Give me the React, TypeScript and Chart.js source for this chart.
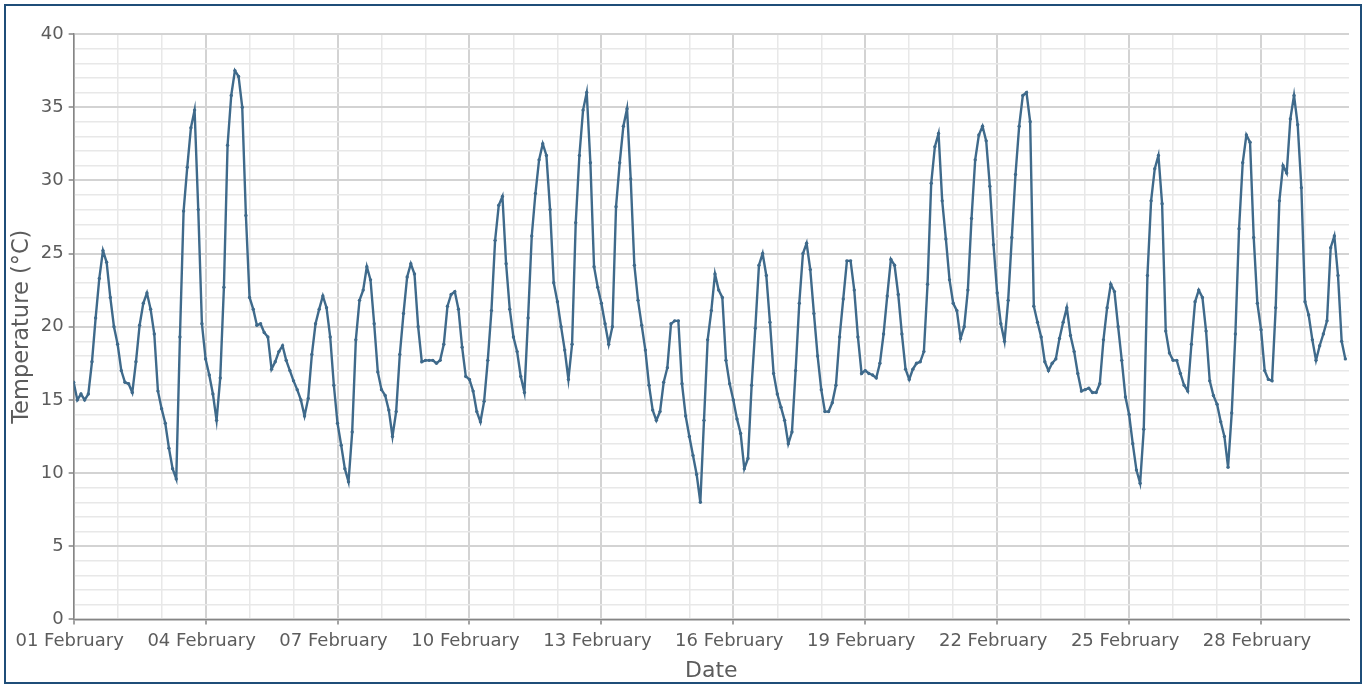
import React, { useEffect, useRef } from "react";
import { Chart, registerables } from "chart.js";

Chart.register(...registerables);

// Temperature readings every 2 hours (00:00, 02:00, ... 22:00) for each day of February
const stepHours = 2;
const feb01 = [16.2, 15.0, 15.4, 15.0, 15.4, 17.6, 20.6, 23.3, 25.2, 24.4, 22.0, 20.0];
const feb02 = [18.8, 17.0, 16.2, 16.1, 15.5, 17.6, 20.1, 21.6, 22.3, 21.2, 19.5, 15.6];
const feb03 = [14.4, 13.4, 11.7, 10.3, 9.6, 19.3, 27.9, 30.9, 33.6, 34.8, 28.0, 20.2];
const feb04 = [17.8, 16.7, 15.4, 13.6, 16.5, 22.7, 32.4, 35.8, 37.5, 37.1, 35.0, 27.6];
const feb05 = [22.0, 21.2, 20.1, 20.2, 19.6, 19.3, 17.1, 17.6, 18.3, 18.7, 17.7, 17.0];
const feb06 = [16.3, 15.7, 15.0, 13.9, 15.1, 18.1, 20.2, 21.2, 22.1, 21.3, 19.3, 16.0];
const feb07 = [13.4, 11.9, 10.3, 9.4, 12.8, 19.1, 21.8, 22.5, 24.1, 23.2, 20.2, 16.9];
const feb08 = [15.7, 15.3, 14.3, 12.5, 14.2, 18.1, 20.9, 23.4, 24.3, 23.6, 20.0, 17.6];
const feb09 = [17.7, 17.7, 17.7, 17.5, 17.7, 18.8, 21.4, 22.2, 22.4, 21.2, 18.6, 16.6];
const feb10 = [16.4, 15.6, 14.2, 13.5, 14.9, 17.7, 21.1, 25.9, 28.3, 28.9, 24.3, 21.2];
const feb11 = [19.3, 18.3, 16.6, 15.5, 20.6, 26.2, 29.1, 31.4, 32.5, 31.7, 28.0, 23.0];
const feb12 = [21.7, 20.0, 18.4, 16.4, 18.8, 27.1, 31.7, 34.8, 36.0, 31.2, 24.1, 22.7];
const feb13 = [21.6, 20.2, 18.8, 20.0, 28.2, 31.2, 33.7, 34.9, 30.1, 24.2, 21.8, 20.1];
const feb14 = [18.4, 16.0, 14.3, 13.6, 14.2, 16.2, 17.2, 20.2, 20.4, 20.4, 16.1, 13.9];
const feb15 = [12.5, 11.2, 9.9, 8.0, 13.6, 19.1, 21.1, 23.6, 22.5, 22.0, 17.7, 16.1];
const feb16 = [15.0, 13.7, 12.7, 10.3, 11.0, 16.0, 19.9, 24.2, 25.0, 23.5, 20.3, 16.8];
const feb17 = [15.4, 14.5, 13.6, 12.0, 12.8, 17.0, 21.6, 25.0, 25.7, 23.9, 20.9, 18.0];
const feb18 = [15.7, 14.2, 14.2, 14.8, 16.0, 19.3, 21.9, 24.5, 24.5, 22.5, 19.3, 16.8];
const feb19 = [17.0, 16.8, 16.7, 16.5, 17.5, 19.5, 22.1, 24.6, 24.2, 22.2, 19.5, 17.1];
const feb20 = [16.4, 17.1, 17.5, 17.6, 18.3, 22.9, 29.8, 32.3, 33.2, 28.6, 26.0, 23.2];
const feb21 = [21.6, 21.1, 19.2, 20.0, 22.5, 27.4, 31.4, 33.1, 33.7, 32.7, 29.6, 25.6];
const feb22 = [22.3, 20.2, 19.0, 21.8, 26.1, 30.4, 33.7, 35.8, 36.0, 34.0, 21.4, 20.3];
const feb23 = [19.3, 17.6, 17.0, 17.5, 17.8, 19.2, 20.3, 21.3, 19.4, 18.3, 16.8, 15.6];
const feb24 = [15.7, 15.8, 15.5, 15.5, 16.1, 19.1, 21.3, 22.9, 22.4, 20.0, 17.7, 15.2];
const feb25 = [14.0, 12.0, 10.2, 9.3, 13.0, 23.5, 28.6, 30.8, 31.7, 28.4, 19.7, 18.2];
const feb26 = [17.7, 17.7, 16.8, 16.0, 15.6, 18.8, 21.7, 22.5, 22.0, 19.7, 16.3, 15.3];
const feb27 = [14.7, 13.5, 12.5, 10.4, 14.1, 19.5, 26.7, 31.2, 33.1, 32.6, 26.1, 21.6];
const feb28 = [19.8, 17.0, 16.4, 16.3, 21.3, 28.6, 31.0, 30.5, 34.2, 35.8, 33.8, 29.5];
const feb29 = [21.7, 20.8, 19.1, 17.7, 18.7, 19.5, 20.4, 25.4, 26.2, 23.5, 19.0, 17.8];

const dailyTemps = [
  feb01, feb02, feb03, feb04, feb05, feb06, feb07, feb08, feb09, feb10,
  feb11, feb12, feb13, feb14, feb15, feb16, feb17, feb18, feb19, feb20,
  feb21, feb22, feb23, feb24, feb25, feb26, feb27, feb28, feb29,
];

const xTickLabels = [
  "01 February", "04 February", "07 February", "10 February", "13 February",
  "16 February", "19 February", "22 February", "25 February", "28 February",
];
const yTickLabels = [0, 5, 10, 15, 20, 25, 30, 35, 40];

const xTitle = "Date";
const yTitle = "Temperature (°C)";

const LINE = "#3f6a8b";
const MAJOR_GRID = "#d3d3d3";
const MINOR_GRID = "#e8e8e8";
const AXIS = "#858585";
const TEXT = "#5c5c5c";
const FONT = "'DejaVu Sans', Verdana, sans-serif";

export default function App() {
  const canvasRef = useRef<HTMLCanvasElement | null>(null);

  useEffect(() => {
    const canvas = canvasRef.current;
    if (!canvas) return;
    const totalHours = dailyTemps.length * 24;
    const points = dailyTemps.flatMap((day, d) =>
      day.map((t, i) => ({ x: d * 24 + i * stepHours, y: t }))
    );

    const chart = new Chart(canvas, {
      type: "line",
      data: {
        datasets: [
          {
            data: points,
            borderColor: LINE,
            backgroundColor: LINE,
            borderWidth: 2.4,
            pointRadius: 1.7,
            pointBorderWidth: 0,
            pointBackgroundColor: LINE,
            tension: 0,
          },
        ],
      },
      options: {
        animation: false,
        responsive: false,
        maintainAspectRatio: false,
        layout: { padding: { left: 8, right: 19, top: 34, bottom: 0 } },
        plugins: { legend: { display: false }, tooltip: { enabled: false } },
        scales: {
          x: {
            type: "linear",
            min: 0,
            max: totalHours,
            ticks: {
              stepSize: 24,
              autoSkip: false,
              maxRotation: 0,
              padding: 6,
              labelOffset: -4,
              color: TEXT,
              font: { family: FONT, size: 18 },
              callback: (v: any) => {
                const day = Math.round(Number(v) / 24);
                return day % 3 === 0 && xTickLabels[day / 3] ? xTickLabels[day / 3] : "";
              },
            },
            grid: {
              color: (ctx: any) => {
                const v = ctx.tick ? ctx.tick.value : 0;
                if (v >= totalHours) return "rgba(0,0,0,0)";
                return Math.round(v / 24) % 3 === 0 ? MAJOR_GRID : MINOR_GRID;
              },
              lineWidth: (ctx: any) => {
                const v = ctx.tick ? ctx.tick.value : 0;
                return Math.round(v / 24) % 3 === 0 ? 2 : 1.5;
              },
              tickColor: (ctx: any) => {
                const v = ctx.tick ? ctx.tick.value : 0;
                return Math.round(v / 24) % 3 === 0 && v < totalHours ? AXIS : "rgba(0,0,0,0)";
              },
              tickLength: 5,
              tickWidth: 1.5,
            },
            border: { color: AXIS, width: 1.5 },
            title: {
              display: true,
              text: xTitle,
              color: TEXT,
              font: { family: FONT, size: 22, lineHeight: 1 },
              padding: { top: 2, bottom: 2 },
            },
          },
          y: {
            type: "linear",
            min: 0,
            max: 40,
            ticks: {
              stepSize: 1,
              autoSkip: false,
              padding: 5,
              color: TEXT,
              font: { family: FONT, size: 18 },
              callback: (v: any) => (yTickLabels.includes(Number(v)) ? String(v) : ""),
            },
            grid: {
              color: (ctx: any) => {
                const v = ctx.tick ? ctx.tick.value : 0;
                return v % 5 === 0 ? MAJOR_GRID : MINOR_GRID;
              },
              lineWidth: (ctx: any) => {
                const v = ctx.tick ? ctx.tick.value : 0;
                return v % 5 === 0 ? 2 : 1.5;
              },
              tickColor: (ctx: any) => {
                const v = ctx.tick ? ctx.tick.value : 0;
                return v % 5 === 0 ? AXIS : "rgba(0,0,0,0)";
              },
              tickLength: 5,
              tickWidth: 1.5,
            },
            border: { color: AXIS, width: 1.5 },
            title: {
              display: true,
              text: yTitle,
              color: TEXT,
              font: { family: FONT, size: 22.5, lineHeight: 1.1 },
              padding: { top: 2, bottom: 1 },
            },
          },
        },
      },
    });
    return () => chart.destroy();
  }, []);

  return (
    <div
      style={{
        position: "fixed",
        left: 0,
        top: 0,
        width: 1368,
        height: 684,
        background: "#ffffff",
      }}
    >
      <canvas
        ref={canvasRef}
        width={1368}
        height={684}
        style={{ position: "absolute", left: 0, top: 0, width: 1368, height: 684 }}
      />
      <div
        style={{
          position: "absolute",
          left: 4,
          top: 4,
          width: 1358,
          height: 680,
          border: "2px solid #1f4e79",
          boxSizing: "border-box",
          pointerEvents: "none",
        }}
      />
    </div>
  );
}
